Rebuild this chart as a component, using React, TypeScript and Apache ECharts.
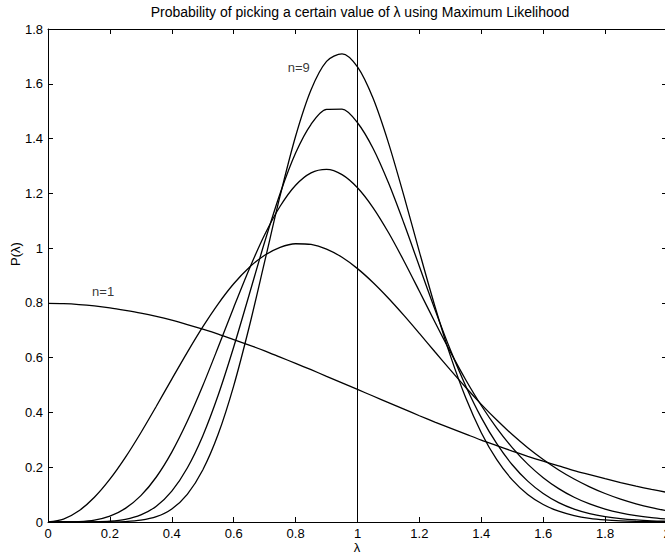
import React, { useEffect, useRef } from "react";
import * as echarts from "echarts";

const lambda = [
  0, 0.05, 0.1, 0.15, 0.2, 0.25, 0.3, 0.35, 0.4, 0.45, 0.5, 0.55, 0.6, 0.65, 0.7, 0.75, 0.8, 0.85, 0.9, 0.95,
  1.0, 1.05, 1.1, 1.15, 1.2, 1.25, 1.3, 1.35, 1.4, 1.45, 1.5, 1.55, 1.6, 1.65, 1.7, 1.75, 1.8, 1.85, 1.9, 1.95, 2.0,
];

const n1 = [
  0.798, 0.797, 0.794, 0.789, 0.782, 0.773, 0.763, 0.751, 0.737, 0.721, 0.704, 0.686, 0.666, 0.646, 0.625, 0.602,
  0.579, 0.556, 0.532, 0.508, 0.484, 0.46, 0.436, 0.412, 0.388, 0.365, 0.343, 0.321, 0.299, 0.279, 0.259, 0.24,
  0.222, 0.205, 0.188, 0.173, 0.158, 0.144, 0.131, 0.119, 0.108,
];

const n3 = [
  0, 0.0103, 0.0408, 0.0902, 0.1562, 0.2359, 0.326, 0.4226, 0.5218, 0.6196, 0.7124, 0.7967, 0.8698, 0.9294, 0.9741,
  1.003, 1.016, 1.0134, 0.9964, 0.9664, 0.9251, 0.8745, 0.8169, 0.7542, 0.6885, 0.6217, 0.5553, 0.4909, 0.4296,
  0.3721, 0.3192, 0.2711, 0.2281, 0.1901, 0.157, 0.1285, 0.1041, 0.0836, 0.0666, 0.0525, 0.0411,
];

const n5 = [
  0, 0.0001, 0.0015, 0.0071, 0.0215, 0.0497, 0.0962, 0.1643, 0.2551, 0.3675, 0.4974, 0.6387, 0.7834, 0.923, 1.0487,
  1.1528, 1.2296, 1.2749, 1.2875, 1.2684, 1.2204, 1.1481, 1.0569, 0.9531, 0.8424, 0.7302, 0.6211, 0.5186, 0.4253,
  0.3427, 0.2715, 0.2114, 0.1619, 0.122, 0.0904, 0.066, 0.0474, 0.0335, 0.0233, 0.016, 0.0108,
];

const n7 = [
  0, 0, 0.00005, 0.0005, 0.0027, 0.0095, 0.0257, 0.0578, 0.1129, 0.1973, 0.3144, 0.4635, 0.6388, 0.8298, 1.0222,
  1.1996, 1.3472, 1.4521, 1.5063, 1.5073, 1.4577, 1.3646, 1.2383, 1.0906, 0.9331, 0.7764, 0.6288, 0.496, 0.3812,
  0.2858, 0.209, 0.1492, 0.104, 0.0708, 0.0472, 0.0307, 0.0195, 0.0121, 0.0074, 0.0044, 0.0026,
];

const n9 = [
  0, 0, 0, 0, 0.0003, 0.0017, 0.0065, 0.0194, 0.0477, 0.1011, 0.1897, 0.321, 0.4972, 0.7119, 0.9506, 1.1913, 1.4086,
  1.5783, 1.6818, 1.7095, 1.6616, 1.5478, 1.3844, 1.1908, 0.9864, 0.7879, 0.6075, 0.4526, 0.3261, 0.2274, 0.1536,
  0.1005, 0.0638, 0.0393, 0.0235, 0.0136, 0.0077, 0.0042, 0.0022, 0.0012, 0.0006,
];

const refLine = [
  [1, 0],
  [1, 1.8],
];

const labelTexts = ["n=9", "n=1"];
const labelPoints = [
  [0.81, 1.66],
  [0.178, 0.84],
];

const titleText = "Probability of picking a certain value of λ using Maximum Likelihood";
const xName = "λ";
const yName = "P(λ)";

const FONT = "'Liberation Sans', Arial, Helvetica, sans-serif";

export default function App() {
  const ref = useRef<HTMLDivElement>(null);

  useEffect(() => {
    if (!ref.current) return;
    const chart = echarts.init(ref.current, null, { renderer: "svg" });

    const curve = (name: string, ys: number[]) => ({
      type: "line",
      name,
      data: lambda.map((x, i) => [x, ys[i]]),
      symbol: "none",
      showSymbol: false,
      smooth: 0.3,
      lineStyle: { color: "#000", width: 1.3 },
      silent: true,
      z: 3,
    });

    const axisCommon = {
      axisLine: { show: true, onZero: false, lineStyle: { color: "#000", width: 1 } },
      axisTick: { show: true, inside: true, length: 5, lineStyle: { color: "#000", width: 1 } },
      splitLine: { show: false },
    };

    chart.setOption({
      animation: false,
      backgroundColor: "#fff",
      grid: {
        left: 48,
        top: 29,
        width: 619,
        height: 493,
        containLabel: false,
        outerBoundsMode: "none",
      },
      xAxis: [
        {
          type: "value",
          min: 0,
          max: 2,
          interval: 0.2,
          position: "bottom",
          ...axisCommon,
          axisLabel: { color: "#000", fontSize: 13, fontFamily: FONT, margin: 5 },
        },
        {
          type: "value",
          min: 0,
          max: 2,
          interval: 0.2,
          position: "top",
          ...axisCommon,
          axisLabel: { show: false },
        },
      ],
      yAxis: [
        {
          type: "value",
          min: 0,
          max: 1.8,
          interval: 0.2,
          position: "left",
          ...axisCommon,
          axisLabel: { color: "#000", fontSize: 13, fontFamily: FONT, margin: 5 },
        },
        {
          type: "value",
          min: 0,
          max: 1.8,
          interval: 0.2,
          position: "right",
          ...axisCommon,
          axisLabel: { show: false },
        },
      ],
      graphic: [
        {
          type: "text",
          x: 360,
          y: 12,
          style: {
            text: titleText,
            fill: "#000",
            font: `14px ${FONT}`,
            textAlign: "center",
            textVerticalAlign: "middle",
          },
        },
        {
          type: "text",
          x: 15,
          y: 254,
          rotation: Math.PI / 2,
          style: {
            text: yName,
            fill: "#000",
            font: `13px ${FONT}`,
            textAlign: "center",
            textVerticalAlign: "middle",
          },
        },
        {
          type: "text",
          x: 357,
          y: 547,
          style: {
            text: xName,
            fill: "#000",
            font: `13px ${FONT}`,
            textAlign: "center",
            textVerticalAlign: "middle",
          },
        },
      ],
      series: [
        curve("n=1", n1),
        curve("n=3", n3),
        curve("n=5", n5),
        curve("n=7", n7),
        curve("n=9", n9),
        {
          type: "line",
          data: refLine,
          symbol: "none",
          lineStyle: { color: "#000", width: 1 },
          silent: true,
          z: 2,
        },
        {
          type: "scatter",
          data: labelPoints.map((p, i) => ({ value: p, name: labelTexts[i] })),
          symbolSize: 1,
          itemStyle: { color: "rgba(0,0,0,0)" },
          label: {
            show: true,
            position: "inside",
            formatter: (p: any) => p.name,
            color: "#000",
            fontSize: 13,
            fontFamily: FONT,
          },
          silent: true,
          z: 4,
        },
      ],
    });

    return () => chart.dispose();
  }, []);

  return (
    <div
      ref={ref}
      style={{ position: "absolute", left: 0, top: 0, width: 665, height: 557, background: "#fff" }}
    />
  );
}
